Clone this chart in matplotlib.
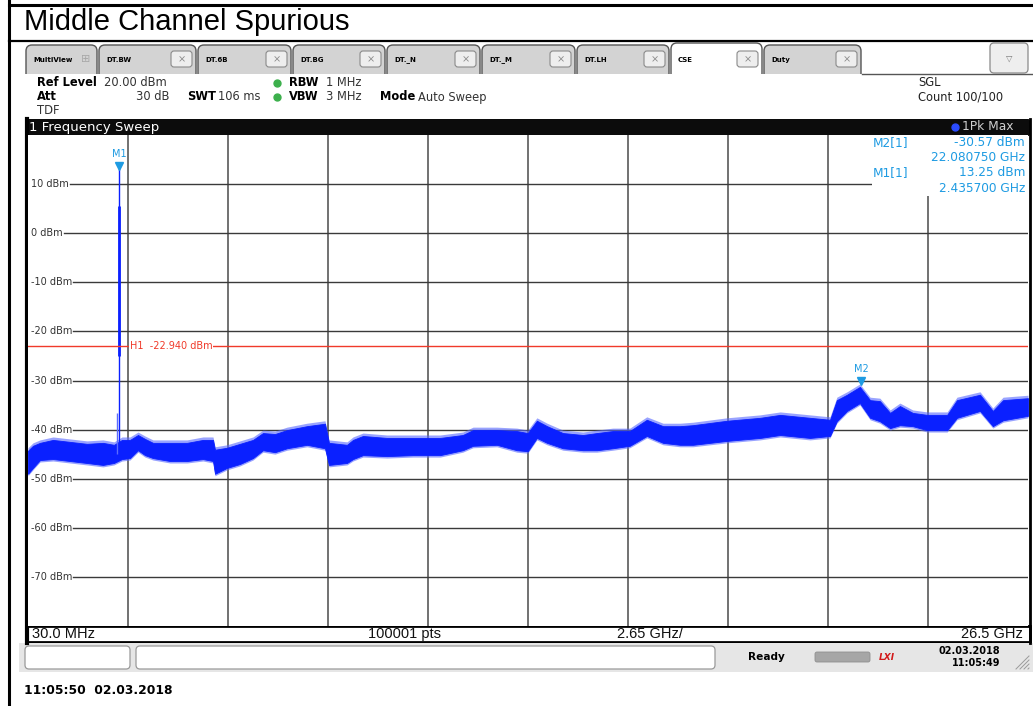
import matplotlib
matplotlib.use("Agg")
import matplotlib.pyplot as plt
import matplotlib.transforms as mtransforms
from matplotlib.patches import Rectangle, FancyBboxPatch

# ---------------- data ----------------
start_ghz, stop_ghz = 0.03, 26.5
ref_level_dbm, bottom_dbm = 20.0, -80.0

trace_freq_ghz = [0.03, 0.162, 0.348, 0.692, 1.142, 1.592, 2.015, 2.306, 2.518, 2.730,
                  2.942, 3.127, 3.339, 3.789, 4.239, 4.662, 4.927, 4.980, 5.298, 5.642,
                  5.986, 6.250, 6.568, 6.886, 7.415, 7.891, 7.997, 8.474, 8.633, 8.897,
                  9.532, 10.22, 10.94, 11.54, 11.81, 12.44, 12.97, 13.26, 13.50, 13.77,
                  14.19, 14.72, 15.09, 15.51, 15.96, 16.41, 16.84, 17.29, 17.63, 18.53,
                  19.41, 19.94, 20.73, 21.26, 21.44, 21.71, 22.05, 22.32, 22.58, 22.85,
                  23.11, 23.45, 23.83, 24.36, 24.62, 25.23, 25.57, 25.84, 26.5]
trace_upper_dbm = [-43.7, -42.7, -42.1, -41.5, -41.9, -42.3, -42.1, -42.5, -41.5, -41.5,
                   -40.5, -41.3, -42.1, -42.1, -42.1, -41.5, -41.5, -43.5, -43.1, -42.3,
                   -41.5, -40.1, -40.3, -39.5, -38.7, -38.2, -42.1, -42.5, -41.5, -40.7,
                   -41.1, -41.1, -41.1, -40.5, -39.5, -39.5, -39.7, -40.1, -37.6, -38.7,
                   -40.1, -40.5, -40.1, -39.7, -39.7, -37.4, -38.7, -38.7, -38.5, -37.6,
                   -37.0, -36.4, -37.0, -37.4, -33.4, -32.3, -30.7, -33.4, -33.6, -36.0,
                   -34.6, -36.0, -36.4, -36.4, -33.4, -32.3, -35.6, -33.4, -33.0]
trace_lower_dbm = [-49.4, -48.2, -46.6, -46.4, -46.8, -47.2, -47.6, -47.2, -46.4, -46.2,
                   -44.6, -45.6, -46.2, -46.8, -46.8, -46.4, -46.8, -49.4, -48.2, -47.4,
                   -46.2, -44.6, -45.0, -44.2, -43.5, -44.2, -47.6, -47.2, -46.4, -45.6,
                   -45.8, -45.6, -45.6, -44.6, -43.7, -43.5, -44.6, -44.8, -42.1, -43.1,
                   -44.2, -44.6, -44.6, -44.2, -43.7, -41.7, -43.1, -43.5, -43.5, -42.7,
                   -42.1, -41.5, -42.1, -41.7, -38.7, -36.6, -35.0, -38.0, -38.7, -40.1,
                   -39.5, -39.7, -40.5, -40.5, -38.0, -36.6, -39.7, -38.5, -37.6]

carrier_freq_ghz = 2.4357
carrier_peak_dbm = 13.25
carrier_body_dbm = 5.5
carrier_base_dbm = -45.0
skirt_freq_ghz = 2.39
skirt_top_dbm = -36.6

marker_names = ["M1", "M2"]
marker_freq_ghz = [2.4357, 22.080750]
marker_level_dbm = [13.25, -30.57]

h1_level_dbm = -22.94

ytick_vals = [10, 0, -10, -20, -30, -40, -50, -60, -70]
ytick_labels = ["10 dBm", "0 dBm", "-10 dBm", "-20 dBm", "-30 dBm",
                "-40 dBm", "-50 dBm", "-60 dBm", "-70 dBm"]

tab_names = ["MultiView", "DT.BW", "DT.6B", "DT.BG", "DT._N", "DT._M", "DT.LH", "CSE", "Duty"]
tab_edges_px = [25, 98, 197, 292, 386, 481, 576, 670, 763, 862]

# ---------------- figure ----------------
W, H, DPI = 1033, 706, 100
fig = plt.figure(figsize=(W / DPI, H / DPI), dpi=DPI, facecolor="white")
bg = fig.add_axes([0, 0, 1, 1], zorder=0)
bg.set_xlim(0, W)
bg.set_ylim(H, 0)
bg.axis("off")

SANS = "DejaVu Sans"
ARIAL = "Liberation Sans"
MK = "#1e9be2"
BLUE = "#0a20ff"

def rect(x0, y0, x1, y1, **kw):
    bg.add_patch(Rectangle((x0, y0), x1 - x0, y1 - y0, **kw))

def rbox(x0, y0, x1, y1, r=4, **kw):
    bg.add_patch(FancyBboxPatch((x0, y0), x1 - x0, y1 - y0,
                                boxstyle=f"round,pad=0,rounding_size={r}", **kw))

# page frame + title
bg.plot([9, 9], [0, H], color="black", lw=2.2)
bg.plot([9, W], [5, 5], color="black", lw=2.2)
bg.plot([9, W], [40.5, 40.5], color="black", lw=1.6)
bg.text(24, 22, "Middle Channel Spurious", fontsize=21, family=ARIAL, va="center", ha="left")

# tabs
for i, name in enumerate(tab_names):
    x0, x1 = tab_edges_px[i], tab_edges_px[i + 1]
    active = name == "CSE"
    rbox(x0 + 1, 43 if active else 45, x1 - 1, 80, r=6,
         fc="white" if active else "#d3d3d3", ec="#555555", lw=1.0)
    bg.text(x0 + 8, 60, name, fontsize=5, family=SANS, weight="bold", va="center", ha="left")
    if name == "MultiView":
        bg.text(x1 - 12, 59, "\u229e", fontsize=8, color="#a8a8a8", va="center", ha="center")
    else:
        rbox(x1 - 26, 51, x1 - 5, 67, r=3, fc="#eeeeee", ec="#8a8a8a", lw=0.8)
        bg.text(x1 - 15.5, 59, "\u2a2f", fontsize=7, color="#8a8a8a", va="center", ha="center")
bg.plot([862, W], [73.5, 73.5], color="#555555", lw=1)
rbox(990, 43, 1028, 73, r=4, fc="#eeeeee", ec="#8a8a8a", lw=0.9)
bg.text(1009, 58, "\u25bd", fontsize=6, color="#777777", va="center", ha="center")

# header area
rect(19, 74, W, 119, fc="white", ec="none")
hk = dict(fontsize=8.3, family=SANS, va="center")
bg.text(37, 83, "Ref Level", weight="bold", **hk)
bg.text(104, 83, "20.00 dBm", color="#333", **hk)
bg.text(37, 97, "Att", weight="bold", **hk)
bg.text(170, 97, "30 dB", color="#333", ha="right", **hk)
bg.text(187, 97, "SWT", weight="bold", **hk)
bg.text(218, 97, "106 ms", color="#333", **hk)
bg.plot([277, 277], [83, 97], ls="none", marker="o", ms=5, color="#3cb04c")
bg.text(289, 83, "RBW", weight="bold", **hk)
bg.text(326, 83, "1 MHz", color="#333", **hk)
bg.text(289, 97, "VBW", weight="bold", **hk)
bg.text(326, 97, "3 MHz", color="#333", **hk)
bg.text(380, 97, "Mode", weight="bold", **hk)
bg.text(418, 97, "Auto Sweep", color="#333", **hk)
bg.text(37, 111, "TDF", color="#333", **hk)
bg.text(918, 83, "SGL", color="#222", **hk)
bg.text(918, 97, "Count 100/100", color="#222", **hk)

# title bar of the diagram
rbox(26, 119, 1030, 136, r=2, fc="#0c0c0c", ec="none")
bg.text(29, 127, "1 Frequency Sweep", fontsize=9.5, family=SANS, color="white", va="center")
bg.plot([955], [127], marker="o", ms=5, color="#2b4cff", ls="none")
bg.text(962, 127, "1Pk Max", fontsize=8.8, family=SANS, color="#cfcfcf", va="center")

# plot frame + bottom label row
bg.plot([26.5, 26.5], [119, 643], color="black", lw=3)
bg.plot([1029.5, 1029.5], [119, 643], color="black", lw=2)
rect(26, 626, 1030, 642, fc="white", ec="black", lw=2)
lk = dict(fontsize=10.5, family=ARIAL, va="center", color="#111")
bg.text(32, 634, "30.0 MHz", ha="left", **lk)
bg.text(404, 634, "100001 pts", ha="center", **lk)
bg.text(650, 634, "2.65 GHz/", ha="center", **lk)
bg.text(1023, 634, "26.5 GHz", ha="right", **lk)

# status bar
rect(19, 643, W, 672, fc="#e6e6e6", ec="none")
rbox(25, 646, 130, 669, r=4, fc="white", ec="#9a9a9a", lw=0.9)
rbox(136, 646, 715, 669, r=4, fc="white", ec="#9a9a9a", lw=0.9)
bg.text(766, 657, "Ready", fontsize=7.6, family=SANS, weight="bold", ha="center", va="center")
rbox(815, 652, 870, 662, r=2, fc="#a6a6a6", ec="#909090", lw=0.6)
bg.text(887, 657, "LXI", fontsize=6.5, family=SANS, weight="bold", style="italic",
        color="#d21a1a", ha="center", va="center")
bg.text(1000, 651, "02.03.2018", fontsize=7, family=SANS, weight="bold", ha="right", va="center")
bg.text(1000, 663, "11:05:49", fontsize=7, family=SANS, weight="bold", ha="right", va="center")
for k in range(4):
    bg.plot([1016 + 4 * k, 1029], [669, 656 + 4 * k], color="#9a9a9a", lw=0.7)
bg.text(24, 690, "11:05:50  02.03.2018", fontsize=8.8, family=SANS, weight="bold", va="center")

# ---------------- spectrum diagram ----------------
ax = fig.add_axes([28 / W, (H - 626) / H, 1000 / W, 491 / H], zorder=1)
ax.set_xlim(start_ghz, stop_ghz)
ax.set_ylim(bottom_dbm, ref_level_dbm)
ax.set_facecolor("white")
for s in ax.spines.values():
    s.set_visible(False)
ax.set_xticks([])
ax.set_yticks([])

span = stop_ghz - start_ghz
for k in range(1, 10):
    ax.axvline(start_ghz + k * span / 10, color="#4a4a4a", lw=1.1, zorder=1)
ytrans = mtransforms.blended_transform_factory(ax.transAxes, ax.transData)
ylabels = []
for v, lab in zip(ytick_vals, ytick_labels):
    t = ax.text(0.003, v, lab, transform=ytrans, fontsize=7, family=SANS, color="#333",
                va="center", ha="left", zorder=2)
    ylabels.append((v, t))
fig.canvas.draw()
renderer = fig.canvas.get_renderer()
inv = ax.transAxes.inverted()
for v, t in ylabels:
    bb = t.get_window_extent(renderer)
    x_end = inv.transform((bb.x1, bb.y0))[0]
    ax.axhline(v, xmin=x_end + 0.001, xmax=1, color="#3a3a3a", lw=1.0, zorder=1)

# H1 display line
ax.axhline(h1_level_dbm, color="#f03a2a", lw=1.0, zorder=4)
ax.text(0.102, h1_level_dbm, "H1  -22.940 dBm", transform=ytrans, fontsize=7, family=SANS,
        color="#f03a2a", va="center", ha="left", zorder=5,
        bbox=dict(fc="white", ec="none", pad=0.5))

# trace: outer (peak tips) envelope lighter, inner core solid
core_up = [u - 0.6 for u in trace_upper_dbm]
core_lo = [l + 0.4 for l in trace_lower_dbm]
ax.fill_between(trace_freq_ghz, trace_lower_dbm, trace_upper_dbm, color="#5566ff",
                alpha=0.6, lw=0, zorder=3)
ax.fill_between(trace_freq_ghz, core_lo, core_up, color=BLUE, lw=0.6,
                edgecolor=BLUE, zorder=3.1)
ax.vlines(skirt_freq_ghz, carrier_base_dbm, skirt_top_dbm, color="#5c6cff", lw=1.0, zorder=3.2)
ax.vlines(carrier_freq_ghz, carrier_base_dbm, carrier_peak_dbm, color=BLUE, lw=1.0, zorder=3.2)
ax.vlines(carrier_freq_ghz, carrier_base_dbm + 20, carrier_body_dbm, color=BLUE, lw=2.0, zorder=3.2)

# markers
for name, f, lvl in zip(marker_names, marker_freq_ghz, marker_level_dbm):
    ax.plot([f], [lvl + 0.5], marker="v", ms=6, color=MK, ls="none", zorder=6)
    ax.annotate(name, (f, lvl), xytext=(0, 6.5), textcoords="offset points", fontsize=7,
                family=SANS, color=MK, ha="center", va="bottom", zorder=6)

# marker table
ax.add_patch(Rectangle((0.844, 0.876), 0.156, 0.124, transform=ax.transAxes,
                       fc="white", ec="none", zorder=5))
tk = dict(transform=ax.transAxes, fontsize=8.7, family=SANS, color=MK, va="center", zorder=6)
def ay(py):
    return (626 - py) / 491
ax.text(0.845, ay(143), "M2[1]", ha="left", **tk)
ax.text(0.997, ay(143), f"{marker_level_dbm[1]:.2f} dBm", ha="right", **tk)
ax.text(0.997, ay(157.5), f"{marker_freq_ghz[1]:.6f} GHz", ha="right", **tk)
ax.text(0.845, ay(173), "M1[1]", ha="left", **tk)
ax.text(0.997, ay(173), f"{marker_level_dbm[0]:.2f} dBm", ha="right", **tk)
ax.text(0.997, ay(188), f"{marker_freq_ghz[0]:.6f} GHz", ha="right", **tk)

fig.savefig("out.png", dpi=DPI, facecolor="white")
